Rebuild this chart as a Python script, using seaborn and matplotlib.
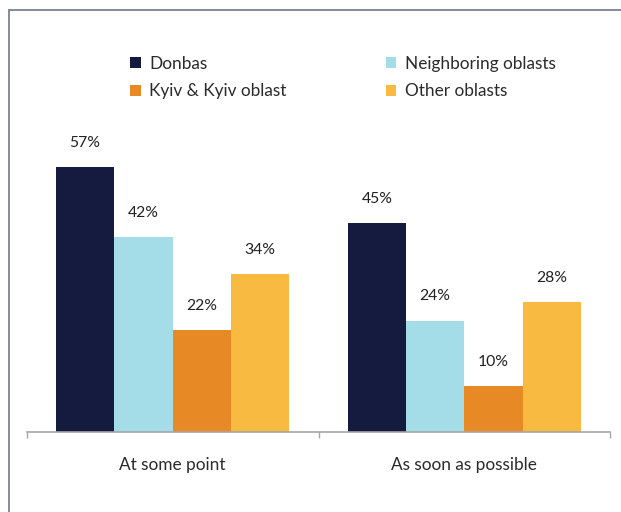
import matplotlib
matplotlib.use("Agg")
import matplotlib.pyplot as plt
from matplotlib.lines import Line2D
import pandas as pd
import seaborn as sns

# Survey shares by region of origin and timing of return
timing = ["At some point", "As soon as possible"]
regions = ["Donbas", "Neighboring oblasts", "Kyiv & Kyiv oblast", "Other oblasts"]
donbas = [57, 45]
neighboring = [42, 24]
kyiv = [22, 10]
other = [34, 28]
colors = ["#151a3f", "#a4dce8", "#e78925", "#f8ba41"]

rows = []
for region, vals in zip(regions, [donbas, neighboring, kyiv, other]):
    for t, v in zip(timing, vals):
        rows.append({"timing": t, "region": region, "share": v})
df = pd.DataFrame(rows)

sns.set_style("white")
plt.rcParams["font.family"] = ["Lato", "DejaVu Sans"]

W, H = 621, 512
fig = plt.figure(figsize=(W / 100, H / 100), dpi=100)
ax = fig.add_axes([26.7 / W, (H - 432.3) / H, 583.6 / W, 325.5 / H])

sns.barplot(data=df, x="timing", y="share", hue="region", order=timing,
            hue_order=regions, palette=colors, width=0.8, saturation=1,
            edgecolor="none", ax=ax)

ax.set_ylim(0, 70)
ax.set_xlim(-0.5, 1.5)
ax.set_xlabel("")
ax.set_ylabel("")
ax.set_yticks([])

for side in ["left", "right", "top"]:
    ax.spines[side].set_visible(False)
ax.spines["bottom"].set_color("#a6a6a6")
ax.spines["bottom"].set_linewidth(1.2)

ax.tick_params(axis="x", which="major", length=0, pad=17.5,
               labelsize=12.4, labelcolor="#2b2b2b")
ax.set_xticks([-0.5, 0.5, 1.5], minor=True)
ax.tick_params(axis="x", which="minor", bottom=True, length=4.3, width=1,
               color="#a6a6a6", direction="out")

# value labels above each bar
for cont in ax.containers:
    for patch, val in zip(cont.patches, cont.datavalues):
        ax.annotate(f"{val:.0f}%",
                    xy=(patch.get_x() + patch.get_width() / 2, patch.get_height()),
                    xytext=(0, 14.6), textcoords="offset points",
                    ha="center", va="baseline", fontsize=11.3, color="#222222")

handles, labels = ax.get_legend_handles_labels()
ax.get_legend().remove()

leg_fs = 12.4
leg_kw = dict(frameon=False, fontsize=leg_fs,
              handlelength=10.7 / (leg_fs * 100 / 72),
              handleheight=10.7 / (leg_fs * 100 / 72),
              handletextpad=0.5, labelspacing=0.68, borderpad=0, borderaxespad=0,
              loc="center left", bbox_transform=fig.transFigure,
              labelcolor="#2b2b2b")
leg1 = fig.legend([handles[0], handles[2]], [labels[0], labels[2]],
                  bbox_to_anchor=(130 / W, 1 - 77.5 / H), **leg_kw)
leg2 = fig.legend([handles[1], handles[3]], [labels[1], labels[3]],
                  bbox_to_anchor=(385.7 / W, 1 - 77.5 / H), **leg_kw)

# outer frame along the top and left edges
frame_col = "#7a8194"
fig.add_artist(Line2D([8.6 / W, 1], [1 - 10 / H, 1 - 10 / H],
                      transform=fig.transFigure, color=frame_col, lw=1.3))
fig.add_artist(Line2D([8.6 / W, 8.6 / W], [0, 1 - 10 / H],
                      transform=fig.transFigure, color=frame_col, lw=1.3))

fig.savefig("out.png", dpi=100, facecolor="white")
